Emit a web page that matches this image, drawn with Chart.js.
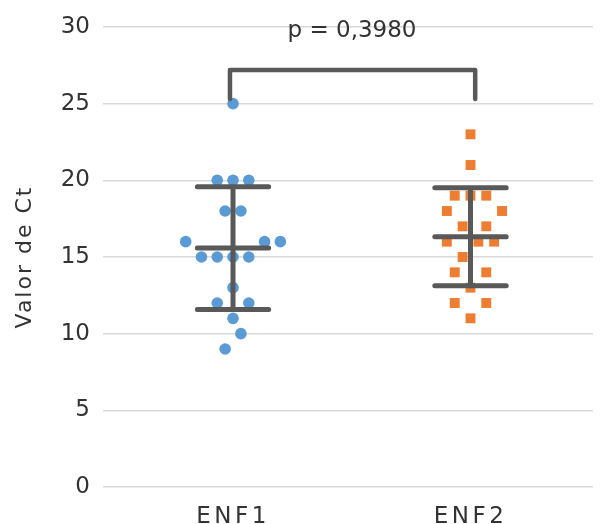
<!DOCTYPE html>
<html>
<head>
<meta charset="utf-8">
<script src="https://cdn.jsdelivr.net/npm/chart.js@4"></script>
<style>
html, body { margin: 0; padding: 0; background: #fff; }
#wrap { width: 600px; height: 524px; }
</style>
</head>
<body>
<div id="wrap"><canvas id="c"></canvas></div>
<script>
const groups = ['ENF1', 'ENF2'];
const enf1Values = [25, 20, 20, 20, 18, 18, 16, 16, 16, 15, 15, 15, 15, 13, 12, 12, 11, 10, 9];
const enf2Values = [23, 21, 19, 19, 19, 18, 18, 17, 17, 16, 16, 16, 15, 14, 14, 13, 12, 12, 11];
// horizontal spread of the dots (in steps of the beeswarm)
const enf1Jitter = [0, -2, 0, 2, -1, 1, -6, 4, 6, -4, -2, 0, 2, 0, -2, 2, 0, 1, -1];
const enf2Jitter = [0, 0, -2, 0, 2, -3, 4, -1, 2, -3, 1, 3, -1, -2, 2, 0, -2, 2, 0];
// mean +/- SD bars
const means = [15.58, 16.32];
const sds = [4.0, 3.2];
const yTicks = [0, 5, 10, 15, 20, 25, 30];
const pLabel = 'p = 0,3980';
const bracketLow = 25.3;
const bracketHigh = 27.2;

const groupX = [1.008, 2.02];
const bracketX = [0.995, 2.04];
const step = 0.0336;
const capHalf = 0.152;
const barColor = '#595959';
const textColor = '#333333';
const fontFamily = '"DejaVu Sans", Verdana, sans-serif';

const LinearScale = Chart.registry.getScale('linear');

// linear scale that can letter-space its labels / title like the original
class SpacedLinearScale extends LinearScale {
    drawLabels(area) {
        this.ctx.save();
        this.ctx.letterSpacing = (this.options.ticks.letterSpacing || 0) + 'px';
        super.drawLabels(area);
        this.ctx.restore();
    }
    drawTitle() {
        this.ctx.save();
        this.ctx.letterSpacing = (this.options.title.letterSpacing || 0) + 'px';
        super.drawTitle();
        this.ctx.restore();
    }
}
SpacedLinearScale.id = 'spacedLinear';
SpacedLinearScale.defaults = LinearScale.defaults;
Chart.register(SpacedLinearScale);

const points = (values, jitter, cx) => values.map((v, i) => ({x: cx + jitter[i] * step, y: v}));

const errorBar = (cx, m, sd) => [
    {x: cx - capHalf, y: m + sd}, {x: cx + capHalf, y: m + sd}, {x: cx, y: null},
    {x: cx - capHalf, y: m}, {x: cx + capHalf, y: m}, {x: cx, y: null},
    {x: cx - capHalf, y: m - sd}, {x: cx + capHalf, y: m - sd}, {x: cx, y: null},
    {x: cx, y: m + sd}, {x: cx, y: m - sd}
];

const lineStyle = {
    showLine: true,
    pointRadius: 0,
    borderColor: barColor,
    borderCapStyle: 'round',
    spanGaps: false,
    order: 0
};

const pLabelPlugin = {
    id: 'pLabel',
    afterDatasetsDraw(chart) {
        const {ctx, scales: {x, y}} = chart;
        ctx.save();
        ctx.font = '23px ' + fontFamily;
        ctx.fillStyle = textColor;
        ctx.textAlign = 'center';
        ctx.textBaseline = 'alphabetic';
        ctx.fillText(pLabel, x.getPixelForValue(1.515), y.getPixelForValue(29.35));
        ctx.restore();
    }
};

new Chart(document.getElementById('c'), {
    type: 'scatter',
    data: {
        datasets: [
            {
                data: points(enf1Values, enf1Jitter, groupX[0]),
                pointStyle: 'circle',
                pointRadius: 5.8,
                borderWidth: 0,
                backgroundColor: '#5B9BD5',
                order: 1
            },
            {
                data: points(enf2Values, enf2Jitter, groupX[1]),
                pointStyle: 'rect',
                pointRadius: 7,
                borderWidth: 0,
                backgroundColor: '#ED7D31',
                order: 1
            },
            Object.assign({data: errorBar(groupX[0], means[0], sds[0]), borderWidth: 5}, lineStyle),
            Object.assign({data: errorBar(groupX[1], means[1], sds[1]), borderWidth: 5}, lineStyle),
            Object.assign({
                data: [
                    {x: bracketX[0], y: bracketLow}, {x: bracketX[0], y: bracketHigh},
                    {x: bracketX[1], y: bracketHigh}, {x: bracketX[1], y: bracketLow}
                ],
                borderWidth: 4.5,
                borderJoinStyle: 'round'
            }, lineStyle)
        ]
    },
    options: {
        responsive: true,
        maintainAspectRatio: false,
        animation: false,
        layout: {padding: {top: 27, right: 0, bottom: 0, left: 0}},
        plugins: {
            legend: {display: false},
            tooltip: {enabled: false}
        },
        scales: {
            x: {
                type: 'spacedLinear',
                min: 0.454,
                max: 2.542,
                grid: {display: false},
                border: {display: false},
                afterBuildTicks: (scale) => {
                    scale.ticks = groups.map((g, i) => ({value: groupX[i]}));
                },
                afterFit: (scale) => { scale.height = 37; },
                ticks: {
                    padding: 8,
                    color: textColor,
                    font: {family: fontFamily, size: 23},
                    letterSpacing: 3.5,
                    callback: (v, i) => groups[i]
                }
            },
            y: {
                type: 'spacedLinear',
                min: 0,
                max: 30,
                grid: {color: '#d9d9d9', lineWidth: 1.5, drawTicks: false},
                border: {display: false},
                afterBuildTicks: (scale) => {
                    scale.ticks = yTicks.map(v => ({value: v}));
                },
                afterFit: (scale) => { scale.width = 103; },
                ticks: {
                    padding: 13,
                    color: textColor,
                    font: {family: fontFamily, size: 23}
                },
                title: {
                    display: true,
                    text: 'Valor de Ct',
                    color: textColor,
                    font: {family: fontFamily, size: 22},
                    letterSpacing: 2,
                    padding: {top: 12, bottom: 0}
                }
            }
        }
    },
    plugins: [pLabelPlugin]
});
</script>
</body>
</html>
